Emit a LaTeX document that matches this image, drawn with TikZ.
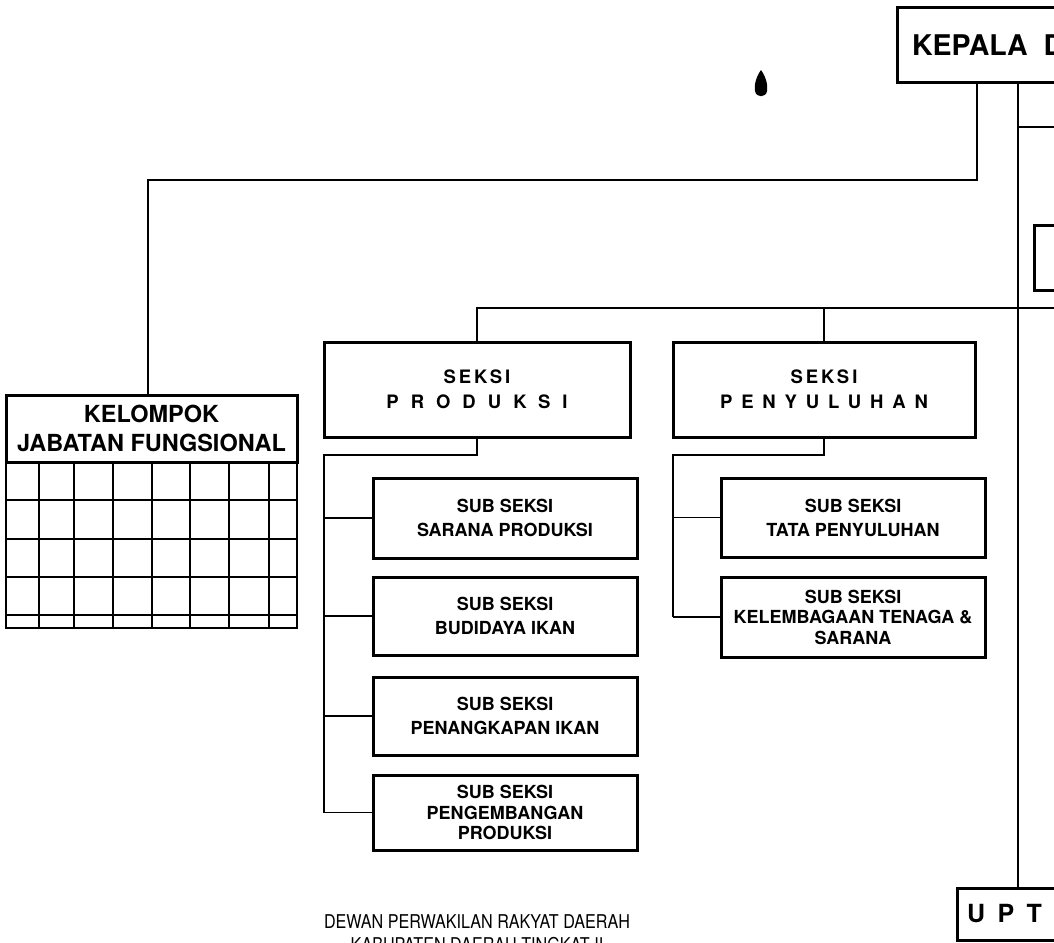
\documentclass[tikz,border=0pt]{standalone}
\usepackage{fontspec}
\setmainfont{TeX Gyre Heros}
\begin{document}
\begin{tikzpicture}[x=1pt,y=-1pt,
  box/.style={draw, line width=3pt, inner sep=0pt, outer sep=0pt, align=center, anchor=north west},
  subfont/.style={font=\fontsize{18}{24}\selectfont\bfseries},
  subfontiii/.style={font=\fontsize{18}{20.5}\selectfont\bfseries},
  conn/.style={line width=1.8pt},
  gridline/.style={line width=2.2pt}]
\useasboundingbox (0,0) rectangle (1054,942);
\clip (0,0) rectangle (1054,942);

% top box
\node (kepala) [box, minimum width=300, minimum height=74, inner xsep=15, text width=270, align=left,
  font=\fontsize{28.5}{34}\selectfont\bfseries] at (897,8) {KEPALA\hspace{16pt}DINAS};
% partial box right
\node (kabag) [box, minimum width=100, minimum height=65] at (1034,225) {};
% UPT
\node (upt) [box, minimum width=200, minimum height=52, inner xsep=10, text width=180, align=left,
  font=\fontsize{25}{30}\selectfont\bfseries\addfontfeature{LetterSpace=50}] at (957,888) {UPT};

% kelompok
\node (kelompok) [box, minimum width=291, minimum height=67,
  font=\fontsize{23.5}{29}\selectfont\bfseries] at (6,395) {KELOMPOK\\JABATAN FUNGSIONAL};
\node (grid) [draw, line width=2.5pt, anchor=north west, inner sep=0pt, outer sep=0pt,
  minimum width=291, minimum height=166] at (kelompok.south west) {};
\foreach \x in {39,74,113,152,190,229,269}
  \draw[gridline] (\x,462) -- (\x,628);
\foreach \y in {500,539,577,615}
  \draw[gridline] (6,\y) -- (297,\y);

% seksi boxes
\node (produksi) [box, minimum width=306, minimum height=95,
  font=\fontsize{18.5}{25}\selectfont\bfseries] at (324,342)
  {{\addfontfeature{LetterSpace=16}SEKSI}\\{\addfontfeature{LetterSpace=65}PRODUKSI}};
\node (penyuluhan) [box, minimum width=302, minimum height=95,
  font=\fontsize{18.5}{25}\selectfont\bfseries] at (673,342)
  {{\addfontfeature{LetterSpace=16}SEKSI}\\{\addfontfeature{LetterSpace=48}PENYULUHAN}};

% sub boxes left
\node (sarana) [box, subfont, minimum width=264, minimum height=80] at (373,478) {SUB SEKSI\\SARANA PRODUKSI};
\node (budidaya) [box, subfont, minimum width=264, minimum height=78] at (373,577) {SUB SEKSI\\BUDIDAYA IKAN};
\node (penangkapan) [box, subfont, minimum width=264, minimum height=78] at (373,677) {SUB SEKSI\\PENANGKAPAN IKAN};
\node (pengembangan) [box, subfontiii, minimum width=264, minimum height=75] at (373,775) {SUB SEKSI\\PENGEMBANGAN\\PRODUKSI};
% sub boxes right
\node (tata) [box, subfont, minimum width=264, minimum height=79] at (721,478) {SUB SEKSI\\TATA PENYULUHAN};
\node (kelembagaan) [box, subfontiii, minimum width=264, minimum height=80] at (721,577) {SUB SEKSI\\KELEMBAGAAN TENAGA \&\\SARANA};

% connectors
\coordinate (k1) at (977,180);
\coordinate (k2) at (148,180);
\draw[conn] (kepala.south -| k1) -- (k1) -- (k2) -- (k2 |- kelompok.north);
\coordinate (k3) at (1018,127);
\coordinate (k4) at (1060,127);
\draw[conn] (kepala.south -| k3) -- (k3 |- upt.north);
\draw[conn] (k3) -- (k4);
\coordinate (bus) at (1060,308);
\draw[conn] (produksi.north) |- (bus);
\draw[conn] (penyuluhan.north) -- (penyuluhan.north |- bus);

\coordinate (bp) at (324,455);
\draw[conn] (produksi.south) |- (bp) -- (bp |- pengembangan.west);
\foreach \n in {sarana,budidaya,penangkapan,pengembangan}
  \draw[conn] (bp |- \n.west) -- (\n.west);
\coordinate (bq) at (673,455);
\draw[conn] (penyuluhan.south) |- (bq) -- (bq |- kelembagaan.west);
\foreach \n in {tata,kelembagaan}
  \draw[conn] (bq |- \n.west) -- (\n.west);

% ink blot
\fill (761,70) .. controls (766,77) and (768,85) .. (767,91)
  .. controls (766,98) and (756,98) .. (755,91)
  .. controls (754,85) and (756,77) .. (761,70);

% footer
\node (dprd) [anchor=base, inner sep=0pt,
  font=\fontsize{19}{22}\selectfont\addfontfeature{FakeStretch=0.85}] at (477,928)
  {DEWAN PERWAKILAN RAKYAT DAERAH};
\node (kab) [anchor=base, inner sep=0pt,
  font=\fontsize{19}{22}\selectfont\addfontfeature{FakeStretch=0.85}] at (477,951)
  {KABUPATEN DAERAH TINGKAT II};
\end{tikzpicture}
\end{document}
